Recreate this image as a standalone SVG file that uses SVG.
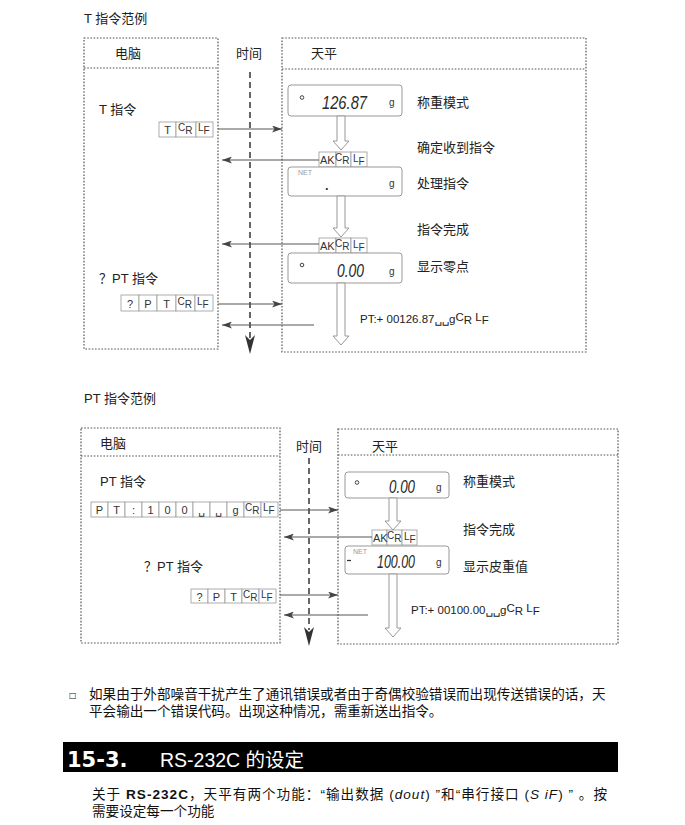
<svg xmlns="http://www.w3.org/2000/svg" width="685" height="825" viewBox="0 0 685 825">
<style>
.bg{fill:#fff}
.dot{fill:none;stroke:#555;stroke-width:1.2;stroke-dasharray:1.6 1.6}
.tl{stroke:#333;stroke-width:1.5;stroke-dasharray:6 4;fill:none}
.tlh{fill:#333}
.ar{stroke:#555;stroke-width:1;fill:none;marker-end:url(#ah)}
.cell{fill:#fff;stroke:#999;stroke-width:0.8}
.disp{fill:#fff;stroke:#999;stroke-width:1}
.hol{fill:#fff;stroke:#999;stroke-width:1}
.t{font-family:"Liberation Sans","Noto Sans CJK SC",sans-serif;font-size:13px;fill:#222}
.c{font-family:"Liberation Sans",Arial,sans-serif;font-size:11px;fill:#333}
.cs{font-family:"Liberation Sans",Arial,sans-serif;font-size:10px;fill:#333}
.lcd{font-family:"Liberation Sans",Arial,sans-serif;font-style:italic;font-size:18px;fill:#2a2a2a}
.u{font-family:"Liberation Sans",Arial,sans-serif;font-size:10px;fill:#333}
.net{font-family:"Liberation Sans",Arial,sans-serif;font-size:7px;fill:#999}
.blank{font-family:"DejaVu Sans",sans-serif}
.ind{fill:none;stroke:#444;stroke-width:1}
.resp{font-family:"Liberation Sans",Arial,sans-serif;font-size:11.5px;fill:#222}
.p{font-family:"Liberation Sans","Noto Sans CJK SC",sans-serif;font-size:13.6px;fill:#111}
</style>
<defs>
<marker id="ah" viewBox="0 0 10 7" markerWidth="10" markerHeight="7" refX="10" refY="3.5" orient="auto" markerUnits="userSpaceOnUse">
<path d="M0,0 L10,3.5 L0,7 L2.5,3.5 z" fill="#444"/>
</marker>
</defs>
<rect class="bg" x="0" y="0" width="685" height="825"/>

<!-- ===== Top example ===== -->
<text class="t" x="84" y="23">T 指令范例</text>

<g id="top-pc">
<rect class="dot" x="84" y="38" width="134" height="311"/>
<line class="dot" x1="84" y1="68" x2="218" y2="68"/>
<text class="t" x="115" y="58">电脑</text>
<text class="t" x="99" y="114">T 指令</text>
<text class="t" x="99" y="283">？PT 指令</text>
</g>

<g id="top-time">
<text class="t" x="236" y="58">时间</text>
<line class="tl" x1="250" y1="72" x2="250" y2="338"/>
<polygon class="tlh" points="245,335 250,340 255,335 250,354"/>
</g>

<g id="top-balance">
<rect class="dot" x="282" y="38" width="304" height="314"/>
<line class="dot" x1="282" y1="69" x2="586" y2="69"/>
<text class="t" x="311" y="58">天平</text>
<text class="t" x="417" y="107">称重模式</text>
<text class="t" x="417" y="152">确定收到指令</text>
<text class="t" x="417" y="188">处理指令</text>
<text class="t" x="417" y="234">指令完成</text>
<text class="t" x="417" y="271">显示零点</text>
</g>

<g id="top-cmd-T">
<rect class="cell" x="159" y="122" width="17" height="15"/>
<rect class="cell" x="176" y="122" width="20" height="15"/>
<rect class="cell" x="196" y="122" width="17" height="15"/>
<text class="c" x="167.5" y="134" text-anchor="middle">T</text>
<text class="cs" x="178" y="131">C<tspan dy="3">R</tspan></text>
<text class="cs" x="198" y="131">L<tspan dy="3">F</tspan></text>
</g>

<g id="top-cmd-qPT">
<rect class="cell" x="121" y="295" width="18" height="16"/>
<rect class="cell" x="139" y="295" width="18" height="16"/>
<rect class="cell" x="157" y="295" width="19" height="16"/>
<rect class="cell" x="176" y="295" width="19" height="16"/>
<rect class="cell" x="195" y="295" width="18" height="16"/>
<text class="c" x="130" y="308" text-anchor="middle">?</text>
<text class="c" x="148" y="308" text-anchor="middle">P</text>
<text class="c" x="166.5" y="308" text-anchor="middle">T</text>
<text class="cs" x="177.5" y="305">C<tspan dy="3">R</tspan></text>
<text class="cs" x="197" y="305">L<tspan dy="3">F</tspan></text>
</g>

<g id="top-disp1">
<rect class="disp" x="288" y="85" width="114" height="31" rx="3"/>
<circle class="ind" cx="302" cy="97.5" r="1.8"/>
<text class="lcd" x="322" y="108.5" textLength="45" lengthAdjust="spacingAndGlyphs">126.87</text>
<text class="u" x="389" y="106">g</text>
</g>
<g id="top-ack1">
<rect class="cell" x="319" y="152" width="17" height="15"/>
<rect class="cell" x="336" y="152" width="15" height="15"/>
<rect class="cell" x="351" y="152" width="16" height="15"/>
<text class="c" x="320" y="164">AK</text>
<text class="cs" x="335" y="161">C<tspan dy="3">R</tspan></text>
<text class="cs" x="353" y="162">L<tspan dy="3">F</tspan></text>
</g>
<g id="top-disp2">
<rect class="disp" x="288" y="167" width="114" height="29" rx="3"/>
<text class="net" x="298" y="175">NET</text>
<text class="lcd" x="325" y="190">.</text>
<text class="u" x="389" y="187">g</text>
</g>
<g id="top-ack2">
<rect class="cell" x="319" y="238" width="17" height="15"/>
<rect class="cell" x="336" y="238" width="15" height="15"/>
<rect class="cell" x="351" y="238" width="16" height="15"/>
<text class="c" x="320" y="250">AK</text>
<text class="cs" x="335" y="247">C<tspan dy="3">R</tspan></text>
<text class="cs" x="353" y="248">L<tspan dy="3">F</tspan></text>
</g>
<g id="top-disp3">
<rect class="disp" x="288" y="253" width="114" height="30" rx="3"/>
<circle class="ind" cx="302" cy="265" r="1.8"/>
<text class="lcd" x="337" y="276.5" textLength="27" lengthAdjust="spacingAndGlyphs">0.00</text>
<text class="u" x="389" y="275">g</text>
</g>
<g id="top-resp">
<text class="resp" x="360" y="323">PT:+ 00126.87<tspan class="blank">␣␣</tspan>g<tspan dy="-2">C</tspan><tspan dy="3">R</tspan><tspan dy="-3"> L</tspan><tspan dy="3">F</tspan></text>
</g>

<!-- ===== Bottom example ===== -->
<text class="t" x="84" y="403">PT 指令范例</text>

<g id="bot-pc">
<rect class="dot" x="81" y="428" width="199" height="215"/>
<line class="dot" x1="81" y1="456" x2="280" y2="456"/>
<text class="t" x="100" y="448">电脑</text>
<text class="t" x="100" y="486">PT 指令</text>
<text class="t" x="144" y="571">？PT 指令</text>
</g>

<g id="bot-time">
<text class="t" x="296" y="451">时间</text>
<line class="tl" x1="309" y1="458" x2="309" y2="630"/>
<polygon class="tlh" points="304,627 309,632 314,627 309,646"/>
</g>

<g id="bot-balance">
<rect class="dot" x="338" y="429" width="280" height="215"/>
<line class="dot" x1="338" y1="455" x2="618" y2="455"/>
<text class="t" x="372" y="451">天平</text>
<text class="t" x="463" y="486">称重模式</text>
<text class="t" x="463" y="534">指令完成</text>
<text class="t" x="463" y="571">显示皮重值</text>
</g>

<g id="bot-cmd-PT">
<rect class="cell" x="91" y="502" width="17" height="15"/>
<rect class="cell" x="108" y="502" width="17" height="15"/>
<rect class="cell" x="125" y="502" width="17" height="15"/>
<rect class="cell" x="142" y="502" width="17" height="15"/>
<rect class="cell" x="159" y="502" width="17" height="15"/>
<rect class="cell" x="176" y="502" width="17" height="15"/>
<rect class="cell" x="193" y="502" width="17" height="15"/>
<rect class="cell" x="210" y="502" width="17" height="15"/>
<rect class="cell" x="227" y="502" width="17" height="15"/>
<rect class="cell" x="244" y="502" width="17" height="15"/>
<rect class="cell" x="261" y="502" width="17" height="15"/>
<text class="c" x="99.5" y="514" text-anchor="middle">P</text>
<text class="c" x="116.5" y="514" text-anchor="middle">T</text>
<text class="c" x="133.5" y="514" text-anchor="middle">:</text>
<text class="c" x="150.5" y="514" text-anchor="middle">1</text>
<text class="c" x="167.5" y="514" text-anchor="middle">0</text>
<text class="c" x="184.5" y="514" text-anchor="middle">0</text>
<text class="c blank" x="201.5" y="514" text-anchor="middle">␣</text>
<text class="c blank" x="218.5" y="514" text-anchor="middle">␣</text>
<text class="c" x="235.5" y="514" text-anchor="middle">g</text>
<text class="cs" x="245" y="511">C<tspan dy="3">R</tspan></text>
<text class="cs" x="263" y="511">L<tspan dy="3">F</tspan></text>
</g>

<g id="bot-cmd-qPT">
<rect class="cell" x="191" y="589" width="17" height="14"/>
<rect class="cell" x="208" y="589" width="17" height="14"/>
<rect class="cell" x="225" y="589" width="17" height="14"/>
<rect class="cell" x="242" y="589" width="17" height="14"/>
<rect class="cell" x="259" y="589" width="17" height="14"/>
<text class="c" x="199.5" y="600.5" text-anchor="middle">?</text>
<text class="c" x="216.5" y="600.5" text-anchor="middle">P</text>
<text class="c" x="233.5" y="600.5" text-anchor="middle">T</text>
<text class="cs" x="243" y="598">C<tspan dy="3">R</tspan></text>
<text class="cs" x="261" y="598">L<tspan dy="3">F</tspan></text>
</g>

<g id="bot-disp1">
<rect class="disp" x="345" y="472" width="104" height="26" rx="3"/>
<circle class="ind" cx="357" cy="482.5" r="1.8"/>
<text class="lcd" x="389" y="492.5" textLength="26" lengthAdjust="spacingAndGlyphs">0.00</text>
<text class="u" x="436" y="491">g</text>
</g>
<g id="bot-ack">
<rect class="cell" x="372" y="530" width="15" height="15"/>
<rect class="cell" x="387" y="530" width="15" height="15"/>
<rect class="cell" x="402" y="530" width="15" height="15"/>
<text class="c" x="373" y="542">AK</text>
<text class="cs" x="387" y="539">C<tspan dy="3">R</tspan></text>
<text class="cs" x="404" y="540">L<tspan dy="3">F</tspan></text>
</g>
<g id="bot-disp2">
<rect class="disp" x="345" y="546" width="104" height="28" rx="3"/>
<text class="net" x="353" y="554">NET</text>
<line x1="347" y1="560.5" x2="351" y2="560.5" stroke="#333" stroke-width="1.3"/>
<text class="lcd" x="377" y="567.5" textLength="38" lengthAdjust="spacingAndGlyphs">100.00</text>
<text class="u" x="436" y="566">g</text>
</g>
<g id="bot-resp">
<text class="resp" x="411" y="614">PT:+ 00100.00<tspan class="blank">␣␣</tspan>g<tspan dy="-2">C</tspan><tspan dy="3">R</tspan><tspan dy="-3"> L</tspan><tspan dy="3">F</tspan></text>
</g>

<!-- ===== Connectors ===== -->
<g id="connectors">
<polygon class="hol" points="337,116 345,116 345,141 349,141 341,150 333,141 337,141"/>
<polygon class="hol" points="337,196 345,196 345,228 349,228 341,237 333,228 337,228"/>
<polygon class="hol" points="337,283 345,283 345,336 349,336 341,345 333,336 337,336"/>
<polygon class="hol" points="389,498 397,498 397,521 401,521 393,530 385,521 389,521"/>
<polygon class="hol" points="389,574 397,574 397,628 401,628 393,637 385,628 389,628"/>
<line class="ar" x1="218" y1="129" x2="282" y2="129"/>
<line class="ar" x1="319" y1="160" x2="222" y2="160"/>
<line class="ar" x1="319" y1="244" x2="222" y2="244"/>
<line class="ar" x1="218" y1="304" x2="282" y2="304"/>
<line class="ar" x1="314" y1="325" x2="222" y2="325"/>
<line class="ar" x1="280" y1="510" x2="338" y2="510"/>
<line class="ar" x1="372" y1="537" x2="284" y2="537"/>
<line class="ar" x1="280" y1="595" x2="338" y2="595"/>
<line class="ar" x1="368" y1="615" x2="284" y2="615"/>
</g>

<!-- ===== Text below ===== -->
<text x="69" y="698" font-family="DejaVu Sans,sans-serif" font-size="8" fill="#111">□</text>
<text class="p" x="89" y="699">如果由于外部噪音干扰产生了通讯错误或者由于奇偶校验错误而出现传送错误的话，天</text>
<text class="p" x="89" y="716">平会输出一个错误代码。出现这种情况，需重新送出指令。</text>

<rect x="63" y="742" width="555" height="30" fill="#000"/>
<text x="67" y="767" font-family="DejaVu Sans,sans-serif" font-weight="bold" font-size="21" fill="#fff">15-3.</text>
<text x="160" y="767" font-family="Liberation Sans,Noto Sans CJK SC,sans-serif" font-size="19.5" fill="#fff">RS-232C 的设定</text>

<text class="p" x="92" y="799" font-size="13" textLength="515" lengthAdjust="spacing">关于 <tspan font-weight="bold">RS-232C</tspan>，天平有两个功能：“输出数据 (<tspan font-style="italic">dout</tspan>) ”和“串行接口 (<tspan font-style="italic">S iF</tspan>) ” 。按</text>
<text class="p" x="92" y="816" font-size="13">需要设定每一个功能</text>
</svg>
